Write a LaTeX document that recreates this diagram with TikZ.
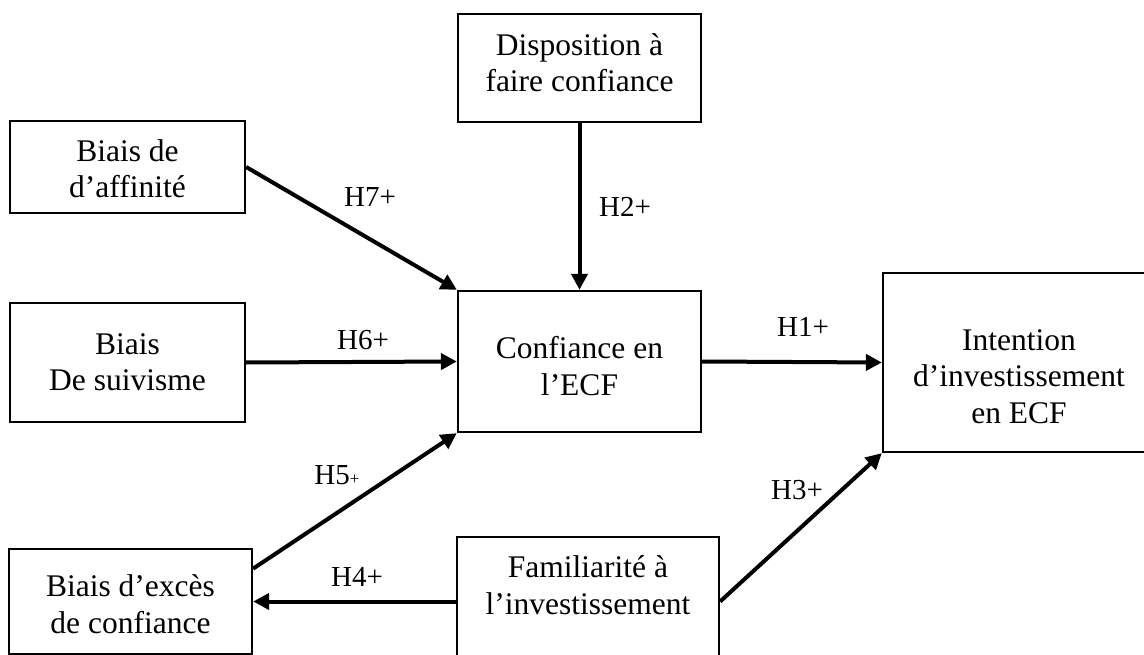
\documentclass[tikz,border=0pt]{standalone}
\usepackage{fontspec}
\setmainfont{Liberation Serif}
\usetikzlibrary{arrows.meta}
\tikzset{
  box/.style={draw, line width=2.3pt, align=center, inner sep=0pt,
    font=\fontsize{31.5}{36.5}\selectfont},
  arr/.style={line width=4pt, -{Triangle[length=16pt,width=16pt]}},
  hyp/.style={inner sep=0pt},
}

\begin{document}
\begin{tikzpicture}[x=1pt,y=-1pt,font=\fontsize{29}{34}\selectfont]
  \useasboundingbox (0,0) rectangle (1144,655);
  \node[box, minimum width=243pt, text height=78pt, text depth=30pt] (disp) at (579.5,68) {Disposition à\\faire confiance};
  \node[box, minimum width=235pt, text height=77pt, text depth=15pt] (aff) at (127.5,167) {Biais de\\d’affinité};
  \node[box, minimum width=235pt, text height=87.5pt, text depth=31.5pt] (suiv) at (127.5,362.5) {Biais\\De suivisme};
  \node[box, minimum width=243pt, text height=104pt, text depth=37pt] (conf) at (579.5,361.5) {Confiance en\\l’ECF};
  \node[box, minimum width=272pt, text height=150pt, text depth=29pt] (int) at (1019,362.5) {Intention\\d’investissement\\en ECF};
  \node[box, minimum width=243pt, text height=84pt, text depth=21pt] (exc) at (130.5,601.5) {Biais d’excès\\de confiance};
  \node[box, minimum width=262pt, text height=77pt, text depth=113pt] (fam) at (588,632) {Familiarité à\\l’investissement};

  \node[hyp] (h7) at (370,197) {H7+};
  \node[hyp] (h2) at (625,207) {H2+};
  \node[hyp] (h6) at (363,340) {H6+};
  \node[hyp] (h1) at (803,327) {H1+};
  \node[hyp] (h5) at (337,475) {H5{\fontsize{17}{17}\selectfont+}};
  \node[hyp] (h4) at (357,577) {H4+};
  \node[hyp] (h3) at (797,490) {H3+};

  \draw[arr] (aff.east) -- (conf.north west);
  \draw[arr] (disp.south) -- (conf.north);
  \draw[arr] (suiv.east) -- (conf.west);
  \draw[arr] (conf.east) -- (int.west);
  \draw[arr] (exc.15) -- (conf.south west);
  \draw[arr] (fam.west |- exc.east) -- (exc.east);
  \draw[arr] (fam.east |- exc.east) -- (int.south west);
\end{tikzpicture}
\end{document}
